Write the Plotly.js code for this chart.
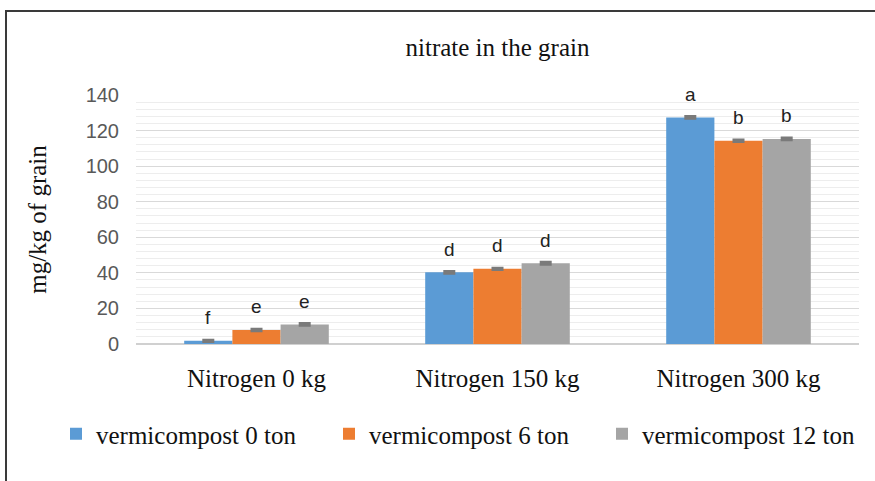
<!DOCTYPE html>
<html>
<head>
<meta charset="utf-8">
<script src="https://cdn.plot.ly/plotly-3.0.1.min.js"></script>
<style>
  html, body { margin: 0; padding: 0; background: #fff; }
  #chart { width: 875px; height: 481px; }
  #frame { position: absolute; left: 5px; top: 10px; width: 900px; height: 500px;
           border-top: 2px solid #3a3a3a; border-left: 2px solid #3a3a3a; pointer-events: none; }
</style>
</head>
<body>
<div id="chart"></div>
<div id="frame"></div>
<script>
const categories = ['Nitrogen 0 kg', 'Nitrogen 150 kg', 'Nitrogen 300 kg'];
const seriesNames = ['vermicompost 0 ton', 'vermicompost 6 ton', 'vermicompost 12 ton'];
const vc0 = [1.8, 40.3, 127.4];
const vc6 = [7.9, 42.3, 114.3];
const vc12 = [11.0, 45.4, 115.3];
const err0 = [0.5, 0.6, 0.6];
const err6 = [0.6, 0.5, 0.6];
const err12 = [0.6, 0.7, 0.6];
const letters0 = ['f', 'd', 'a'];
const letters6 = ['e', 'd', 'b'];
const letters12 = ['e', 'd', 'b'];
const colors = ['#5b9bd5', '#ed7d31', '#a5a5a5'];

const values = [vc0, vc6, vc12];
const errs = [err0, err6, err12];
const letters = [letters0, letters6, letters12];

const W = 875, H = 481;
const margin = {l: 136, r: 16, t: 95, b: 137};
const bargap = 0.4;
const serif = 'Liberation Serif, Times New Roman, serif';

const traces = values.map((v, i) => ({
  type: 'bar',
  name: seriesNames[i],
  x: categories,
  y: v,
  marker: {color: colors[i]},
  error_y: {type: 'data', array: errs[i], visible: true, color: '#7a7a7a', thickness: 2.5, width: 6},
  hoverinfo: 'x+y'
}));

const plotW = W - margin.l - margin.r;
const plotH = H - margin.t - margin.b;
const barW = plotW / categories.length * (1 - bargap) / values.length;
const annotations = [];
values.forEach((v, i) => {
  v.forEach((val, j) => {
    annotations.push({
      x: categories[j], y: val + errs[i][j], xref: 'x', yref: 'y',
      text: letters[i][j], showarrow: false,
      xshift: (i - 1) * barW, yshift: 22, yanchor: 'middle',
      font: {family: 'Liberation Sans, Arial, sans-serif', size: 19, color: '#222'}
    });
  });
});

const layout = {
  width: W, height: H,
  margin: margin,
  paper_bgcolor: '#fff', plot_bgcolor: '#fff',
  barmode: 'group', bargap: bargap, bargroupgap: 0,
  title: {
    text: 'nitrate in the grain',
    font: {family: serif, size: 25, color: '#111'},
    x: 0.5, xref: 'paper', xanchor: 'center',
    y: 1 - 47 / H, yref: 'container', yanchor: 'middle'
  },
  xaxis: {
    type: 'category',
    showgrid: false, showline: false, zeroline: false, ticks: '',
    ticklabelstandoff: 17,
    tickfont: {family: serif, size: 25, color: '#111'}
  },
  yaxis: {
    range: [0, 140], dtick: 20, tick0: 0,
    showgrid: true, gridcolor: '#d9d9d9', gridwidth: 1,
    minor: {dtick: 4, showgrid: true, gridcolor: '#ededed', gridwidth: 1},
    zeroline: true, zerolinecolor: '#d0d0d0', zerolinewidth: 1.5,
    showline: false, ticks: '',
    ticklabelstandoff: 16,
    tickfont: {family: 'Liberation Sans, Arial, sans-serif', size: 20, color: '#595959'},
    title: {
      text: 'mg/kg of grain', standoff: 31,
      font: {family: serif, size: 25, color: '#111'}
    }
  },
  showlegend: true,
  legend: {
    orientation: 'h', xref: 'paper', x: (78 - margin.l) / plotW, xanchor: 'left',
    yref: 'paper', y: -(434 - (H - margin.b)) / plotH, yanchor: 'middle',
    font: {family: serif, size: 25, color: '#111'},
    itemwidth: 30, entrywidth: 228, traceorder: 'normal'
  },
  annotations: annotations
};

Plotly.newPlot('chart', traces, layout, {displayModeBar: false, staticPlot: true});
</script>
</body>
</html>
